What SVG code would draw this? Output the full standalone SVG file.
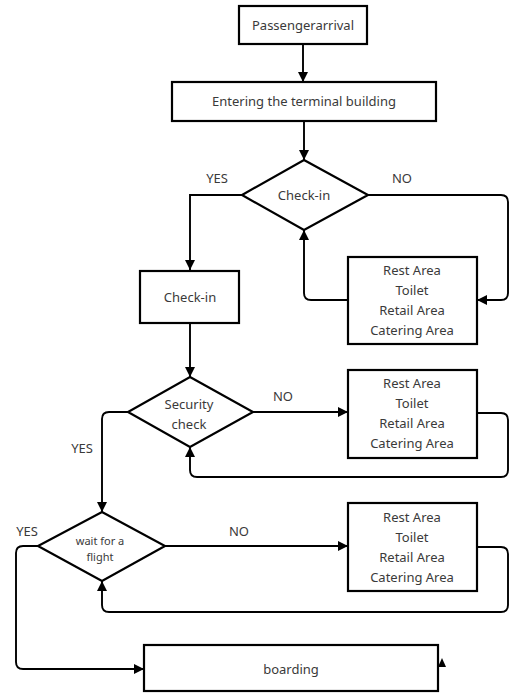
<svg xmlns="http://www.w3.org/2000/svg" width="510" height="693" viewBox="0 0 510 693">
<defs>
<style>
.box{fill:#fff;stroke:#000;stroke-width:2.2}
.t{font-family:"Noto Sans","Open Sans",sans-serif;font-size:13px;fill:#3a3a3a;text-anchor:middle;dominant-baseline:central}
.s{font-size:11px}
.c{fill:none;stroke:#000;stroke-width:1.9}
</style>
<marker id="ah" viewBox="0 0 10 10" refX="10" refY="5" markerWidth="10" markerHeight="10" markerUnits="userSpaceOnUse" orient="auto">
<path d="M0,0 L10,5 L0,10 Z" fill="#000"/>
</marker>
</defs>
<rect width="510" height="693" fill="#fff"/>
<g id="connectors">
<path class="c" d="M303,44 V82" marker-end="url(#ah)"/>
<path class="c" d="M304,121 V160" marker-end="url(#ah)"/>
<path class="c" d="M242,195 H190 V270" marker-end="url(#ah)"/>
<path class="c" d="M368,195 H501 Q508,195 508,202 V293 Q508,300 501,300 H477" marker-end="url(#ah)"/>
<path class="c" d="M348,300 H311 Q304,300 304,293 V230" marker-end="url(#ah)"/>
<path class="c" d="M190,323 V377" marker-end="url(#ah)"/>
<path class="c" d="M253,412 H348" marker-end="url(#ah)"/>
<path class="c" d="M477,413 H501 Q508,413 508,420 V470 Q508,477 501,477 H197 Q190,477 190,470 V447" marker-end="url(#ah)"/>
<path class="c" d="M128,412 H109 Q102,412 102,419 V512" marker-end="url(#ah)"/>
<path class="c" d="M165,546 H348" marker-end="url(#ah)"/>
<path class="c" d="M477,547 H501 Q508,547 508,554 V605 Q508,612 501,612 H109 Q102,612 102,605 V581" marker-end="url(#ah)"/>
<path class="c" d="M38,546 H23 Q16,546 16,553 V662 Q16,669 23,669 H144" marker-end="url(#ah)"/>
<path d="M438,667 L442,658 L446,667 Z" fill="#000"/>
</g>
<g id="labels">
<text class="t" x="217" y="178">YES</text>
<text class="t" x="402" y="178">NO</text>
<text class="t" x="283" y="396">NO</text>
<text class="t" x="82" y="448">YES</text>
<text class="t" x="27" y="531">YES</text>
<text class="t" x="239" y="531">NO</text>
</g>
<g id="arrival">
<rect class="box" x="239" y="6" width="128" height="38"/>
<text class="t" x="303" y="25">Passengerarrival</text>
</g>
<g id="enter">
<rect class="box" x="172" y="82" width="264" height="39"/>
<text class="t" x="304" y="101">Entering the terminal building</text>
</g>
<g id="checkin-decision">
<polygon class="box" points="304,160 368,195 304,230 242,195"/>
<text class="t" x="304" y="195">Check-in</text>
</g>
<g id="rest1">
<rect class="box" x="348" y="257" width="129" height="87"/>
<text class="t" x="412" y="270">Rest Area</text>
<text class="t" x="412" y="290">Toilet</text>
<text class="t" x="412" y="310">Retail Area</text>
<text class="t" x="412" y="330">Catering Area</text>
</g>
<g id="checkin">
<rect class="box" x="140" y="271" width="99" height="52"/>
<text class="t" x="190" y="297">Check-in</text>
</g>
<g id="security">
<polygon class="box" points="190,377 253,412 190,447 128,412"/>
<text class="t" x="189" y="404">Security</text>
<text class="t" x="189" y="424">check</text>
</g>
<g id="rest2">
<rect class="box" x="348" y="370" width="129" height="88"/>
<text class="t" x="412" y="383">Rest Area</text>
<text class="t" x="412" y="403">Toilet</text>
<text class="t" x="412" y="423">Retail Area</text>
<text class="t" x="412" y="443">Catering Area</text>
</g>
<g id="wait">
<polygon class="box" points="102,512 165,546 102,581 38,546"/>
<text class="t s" x="100" y="540">wait for a</text>
<text class="t s" x="100" y="556">flight</text>
</g>
<g id="rest3">
<rect class="box" x="348" y="503" width="129" height="88"/>
<text class="t" x="412" y="517">Rest Area</text>
<text class="t" x="412" y="537">Toilet</text>
<text class="t" x="412" y="557">Retail Area</text>
<text class="t" x="412" y="577">Catering Area</text>
</g>
<g id="boarding">
<rect class="box" x="144" y="645" width="294" height="46"/>
<text class="t" x="291" y="669">boarding</text>
</g>
</svg>
